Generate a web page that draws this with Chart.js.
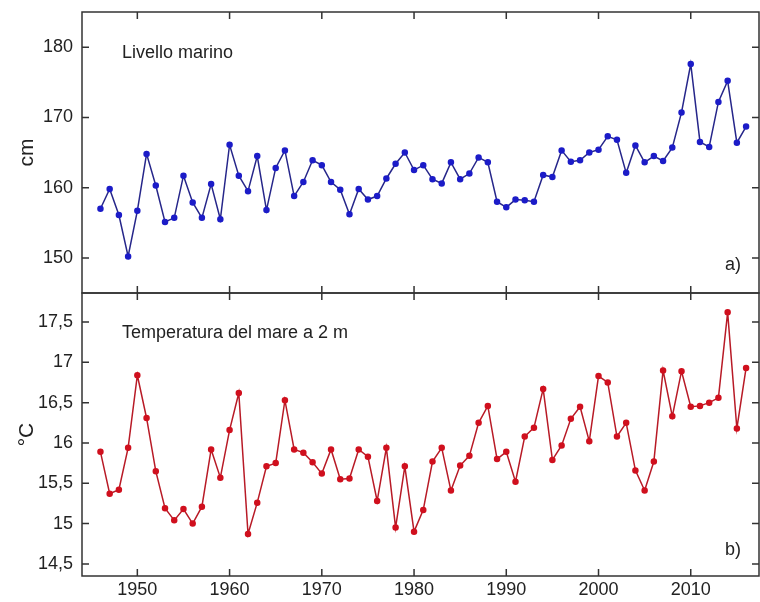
<!DOCTYPE html>
<html>
<head>
<meta charset="utf-8">
<script src="https://cdn.jsdelivr.net/npm/chart.js@4.4.1/dist/chart.umd.min.js"></script>
<style>
  body { margin: 0; background: #fff; }
  #wrap { position: relative; width: 760px; height: 602px; }
  #topBox { position: absolute; left: 0; top: 0; width: 760px; height: 296px; }
  #botBox { position: absolute; left: 0; top: 290px; width: 760px; height: 312px; }
</style>
</head>
<body>
<div id="wrap">
  <div id="topBox"><canvas id="seaChart"></canvas></div>
  <div id="botBox"><canvas id="tempChart"></canvas></div>
</div>
<script>
const years = [1946, 1947, 1948, 1949, 1950, 1951, 1952, 1953, 1954, 1955,
    1956, 1957, 1958, 1959, 1960, 1961, 1962, 1963, 1964, 1965,
    1966, 1967, 1968, 1969, 1970, 1971, 1972, 1973, 1974, 1975,
    1976, 1977, 1978, 1979, 1980, 1981, 1982, 1983, 1984, 1985,
    1986, 1987, 1988, 1989, 1990, 1991, 1992, 1993, 1994, 1995,
    1996, 1997, 1998, 1999, 2000, 2001, 2002, 2003, 2004, 2005,
    2006, 2007, 2008, 2009, 2010, 2011, 2012, 2013, 2014, 2015, 2016];

// livello marino (cm)
const seaLevel = [157.0, 159.8, 156.1, 150.2, 156.7, 164.8, 160.3, 155.1, 155.7, 161.7,
    157.9, 155.7, 160.5, 155.5, 166.1, 161.7, 159.5, 164.5, 156.8, 162.8,
    165.3, 158.8, 160.8, 163.9, 163.2, 160.8, 159.7, 156.2, 159.8, 158.3,
    158.8, 161.3, 163.4, 165.0, 162.5, 163.2, 161.2, 160.6, 163.6, 161.2,
    162.0, 164.3, 163.6, 158.0, 157.2, 158.3, 158.2, 158.0, 161.8, 161.5,
    165.3, 163.7, 163.9, 165.0, 165.4, 167.3, 166.8, 162.1, 166.0, 163.6,
    164.5, 163.8, 165.7, 170.7, 177.6, 166.5, 165.8, 172.2, 175.2, 166.4, 168.7];

// temperatura del mare a 2 m (°C)
const seaTemp = [15.89, 15.37, 15.42, 15.94, 16.84, 16.31, 15.65, 15.19, 15.04, 15.18,
    15.00, 15.21, 15.92, 15.57, 16.16, 16.62, 14.87, 15.26, 15.71, 15.75,
    16.53, 15.92, 15.88, 15.76, 15.62, 15.92, 15.55, 15.56, 15.92, 15.83,
    15.28, 15.94, 14.95, 15.71, 14.90, 15.17, 15.77, 15.94, 15.41, 15.72,
    15.84, 16.25, 16.46, 15.80, 15.89, 15.52, 16.08, 16.19, 16.67, 15.79,
    15.97, 16.30, 16.45, 16.02, 16.83, 16.75, 16.08, 16.25, 15.66, 15.41,
    15.77, 16.90, 16.33, 16.89, 16.45, 16.46, 16.50, 16.56, 17.62, 16.18, 16.93];

const yearTicks = [1950, 1960, 1970, 1980, 1990, 2000, 2010];
const seaTicks = [150, 160, 170, 180];
const tempTicks = [14.5, 15, 15.5, 16, 16.5, 17, 17.5];

const FONT = "'Liberation Sans', Arial, sans-serif";
const INK = '#222';

// inward ticks + frame around the plot area
function framePlugin(yTickValues) {
    return {
        id: 'frame',
        afterDraw(chart) {
            const { ctx, chartArea: a, scales } = chart;
            const len = 7;
            ctx.save();
            ctx.strokeStyle = '#333';
            ctx.lineWidth = 1.5;
            ctx.strokeRect(a.left, a.top, a.right - a.left, a.bottom - a.top);
            ctx.beginPath();
            yearTicks.forEach(v => {
                const px = scales.x.getPixelForValue(v);
                ctx.moveTo(px, a.top); ctx.lineTo(px, a.top + len);
                ctx.moveTo(px, a.bottom); ctx.lineTo(px, a.bottom - len);
            });
            yTickValues.forEach(v => {
                const py = scales.y.getPixelForValue(v);
                ctx.moveTo(a.left, py); ctx.lineTo(a.left + len, py);
                ctx.moveTo(a.right, py); ctx.lineTo(a.right - len, py);
            });
            ctx.stroke();
            ctx.restore();
        }
    };
}

function labelPlugin(title, titleDy, tag, tagDy) {
    return {
        id: 'panelLabels',
        afterDraw(chart) {
            const { ctx, chartArea: a } = chart;
            ctx.save();
            ctx.fillStyle = INK;
            ctx.font = '18px ' + FONT;
            ctx.textBaseline = 'middle';
            ctx.textAlign = 'left';
            ctx.fillText(title, a.left + 40, a.top + titleDy);
            ctx.textAlign = 'center';
            ctx.fillText(tag, a.right - 26, a.bottom - tagDy);
            ctx.restore();
        }
    };
}

function buildChart(canvasId, values, color, lineColor, yMin, yMax, yTicks, yTitle, showX, padding, plugins) {
    return new Chart(document.getElementById(canvasId), {
        type: 'line',
        data: {
            datasets: [{
                data: years.map((yr, i) => ({ x: yr, y: values[i] })),
                borderColor: lineColor,
                backgroundColor: color,
                pointBackgroundColor: color,
                pointBorderColor: color,
                borderWidth: 1.5,
                pointRadius: 2.5,
                tension: 0
            }]
        },
        options: {
            responsive: true,
            maintainAspectRatio: false,
            animation: false,
            layout: { padding: padding, autoPadding: false },
            plugins: { legend: { display: false }, tooltip: { enabled: false } },
            scales: {
                x: {
                    type: 'linear',
                    min: 1944,
                    max: 2017.4,
                    display: showX,
                    afterBuildTicks: s => { s.ticks = yearTicks.map(v => ({ value: v })); },
                    afterFit: s => {
                        s.height = showX ? 26 : 0;
                        s.paddingLeft = 0; s.paddingRight = 0;
                    },
                    grid: { display: false, drawTicks: false },
                    border: { display: false },
                    ticks: {
                        color: INK, padding: 3, maxRotation: 0,
                        font: { family: FONT, size: 18 },
                        callback: v => String(v)
                    }
                },
                y: {
                    min: yMin,
                    max: yMax,
                    afterBuildTicks: s => { s.ticks = yTicks.map(v => ({ value: v })); },
                    afterFit: s => {
                        s.width = 82;
                        s.paddingTop = 0; s.paddingBottom = 0;
                    },
                    grid: { display: false, drawTicks: false },
                    border: { display: false },
                    ticks: {
                        color: INK, padding: 9,
                        font: { family: FONT, size: 18 },
                        callback: v => String(v).replace('.', ',')
                    },
                    title: {
                        display: true, text: yTitle, color: INK,
                        font: { family: FONT, size: 21 },
                        padding: { top: 15, bottom: 0 }
                    }
                }
            }
        },
        plugins: plugins
    });
}

buildChart('seaChart', seaLevel, '#1c1cc8', '#26268a', 145, 185, seaTicks, 'cm', false,
    { top: 12, right: 1, bottom: 3, left: 0 },
    [framePlugin(seaTicks), labelPlugin('Livello marino', 41, 'a)', 28)]);

buildChart('tempChart', seaTemp, '#d0101e', '#b81a26', 14.35, 17.86, tempTicks, '°C', true,
    { top: 3, right: 1, bottom: 0, left: 0 },
    [framePlugin(tempTicks), labelPlugin('Temperatura del mare a 2 m', 40, 'b)', 26)]);
</script>
</body>
</html>
